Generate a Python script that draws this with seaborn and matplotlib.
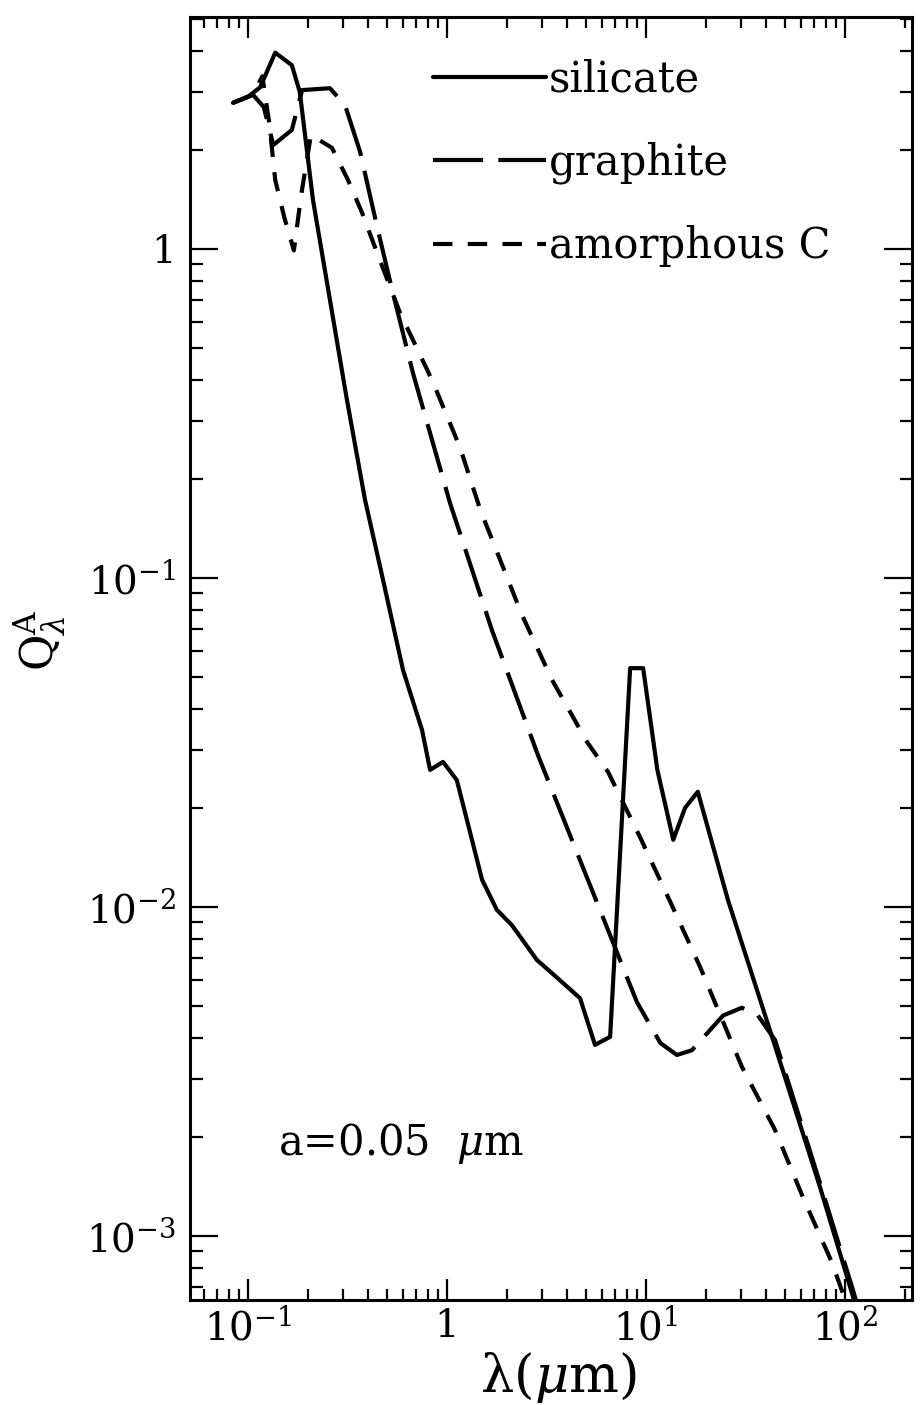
import numpy as np
import pandas as pd
import matplotlib
matplotlib.use("Agg")
import matplotlib.pyplot as plt
import seaborn as sns
from matplotlib.ticker import FixedLocator, FixedFormatter, LogLocator, NullFormatter

# ---------------- data ----------------
lam_sil = [0.084, 0.100, 0.115, 0.137, 0.166, 0.182, 0.212, 0.258, 0.314, 0.387,
           0.477, 0.601, 0.749, 0.822, 0.955, 1.12, 1.50, 1.78, 2.12, 2.83,
           3.57, 4.66, 5.54, 6.6, 8.32, 9.67, 11.4, 13.7, 15.7, 18.2,
           25.8, 43.5, 74.8, 110.0, 125.0]
q_sil = [2.78, 2.90, 3.10, 3.95, 3.62, 3.00, 1.41, 0.70, 0.348, 0.173,
         0.0986, 0.0525, 0.0345, 0.0261, 0.0276, 0.0243, 0.0121, 0.0098, 0.0088, 0.0069,
         0.0061, 0.00528, 0.00381, 0.00403, 0.0532, 0.0532, 0.0261, 0.0160, 0.0200, 0.0224,
         0.0105, 0.00394, 0.00141, 0.00065, 0.00050]

lam_gra = [0.084, 0.106, 0.120, 0.134, 0.166, 0.187, 0.258, 0.307, 0.366, 0.445,
           0.53, 0.674, 1.035, 1.68, 2.86, 5.06, 9.0, 11.8, 14.3, 17.0,
           24.4, 30.3, 36.5, 44.5, 74.8, 110.0, 125.0]
q_gra = [2.78, 2.94, 2.70, 2.07, 2.30, 3.04, 3.08, 2.74, 1.97, 1.17,
         0.75, 0.42, 0.169, 0.0695, 0.029, 0.01225, 0.00514, 0.00386, 0.00355, 0.00367,
         0.00468, 0.00494, 0.00468, 0.00394, 0.00145, 0.00068, 0.00052]

lam_amc = [0.084, 0.106, 0.118, 0.128, 0.137, 0.152, 0.170, 0.185, 0.207, 0.264,
           0.318, 0.374, 0.435, 0.58, 0.84, 1.16, 1.47, 2.38, 3.37, 5.06,
           6.45, 7.57, 9.33, 13.2, 18.7, 30.3, 44.5, 61.5, 86.0, 105.0]
q_amc = [2.78, 2.95, 3.35, 2.40, 1.62, 1.25, 0.99, 1.46, 2.22, 2.03,
         1.62, 1.29, 1.01, 0.64, 0.40, 0.25, 0.161, 0.0772, 0.049, 0.0317,
         0.0257, 0.0211, 0.0163, 0.0104, 0.00657, 0.00327, 0.0021, 0.00131, 0.00083, 0.00059]

series_names = ["silicate", "graphite", "amorphous C"]

xtick_vals = [0.1, 1, 10, 100]
xtick_labels = [r"$10^{-1}$", "1", r"$10^{1}$", r"$10^{2}$"]
ytick_vals = [1e-3, 1e-2, 1e-1, 1]
ytick_labels = [r"$10^{-3}$", r"$10^{-2}$", r"$10^{-1}$", "1"]

# ---------------- style ----------------
sns.set_style("ticks")
plt.rcParams["font.family"] = ["DejaVu Serif"]
plt.rcParams["mathtext.fontset"] = "dejavuserif"
plt.rcParams["lines.scale_dashes"] = False
plt.rcParams["text.color"] = "black"
plt.rcParams["axes.labelcolor"] = "black"
plt.rcParams["xtick.color"] = "black"
plt.rcParams["ytick.color"] = "black"

fig = plt.figure(figsize=(9.22, 14.05), dpi=100)
ax = fig.add_axes([190 / 922, 1 - 1300 / 1405, (912 - 190) / 922, (1300 - 17) / 1405])
ax.set_xscale("log")
ax.set_yscale("log")

styles = ["-", (0, (36, 11)), (0, (14, 11))]
data = [(lam_sil, q_sil), (lam_gra, q_gra), (lam_amc, q_amc)]
for (lam, q), name, ls in zip(data, series_names, styles):
    sns.lineplot(x=lam, y=q, ax=ax, color="black", linewidth=3.0, sort=False,
                 estimator=None, label=name, linestyle=ls)

ax.set_xlim(0.0511, 217)
ax.set_ylim(6.39e-4, 5.07)

ax.xaxis.set_major_locator(FixedLocator(xtick_vals))
ax.xaxis.set_major_formatter(FixedFormatter(xtick_labels))
ax.yaxis.set_major_locator(FixedLocator(ytick_vals))
ax.yaxis.set_major_formatter(FixedFormatter(ytick_labels))
ax.xaxis.set_minor_locator(LogLocator(base=10, subs=np.arange(2, 10), numticks=50))
ax.yaxis.set_minor_locator(LogLocator(base=10, subs=np.arange(2, 10), numticks=50))
ax.xaxis.set_minor_formatter(NullFormatter())
ax.yaxis.set_minor_formatter(NullFormatter())

ax.tick_params(which="both", direction="in", top=True, right=True, width=1.6,
               color="black", labelsize=28, labelcolor="black")
ax.tick_params(axis="x", which="major", length=15, pad=6)
ax.tick_params(axis="x", which="minor", length=8)
ax.tick_params(axis="y", which="major", length=20, pad=10)
ax.tick_params(axis="y", which="minor", length=9)

for sp in ax.spines.values():
    sp.set_linewidth(2.2)
    sp.set_color("black")

ax.set_xlabel("λ($\\mu$m)", fontsize=38)
ax.xaxis.set_label_coords(0.51, -0.039)
ax.set_ylabel(r"$\mathrm{Q}^{\mathrm{A}}_{\lambda}$", fontsize=32)
ax.yaxis.set_label_coords(-0.169, 0.514)

ax.text((278 - 190) / 722, (1300 - 1155) / 1283, r"a=0.05  $\mu$m",
        transform=ax.transAxes, fontsize=30, va="baseline", ha="left", color="black")

handles, labels = ax.get_legend_handles_labels()
leg = ax.legend(handles, labels, loc="upper left",
                bbox_to_anchor=((433 - 190) / 722, (1300 - 59) / 1283),
                frameon=False, fontsize=30, handlelength=2.7, handletextpad=0.08,
                labelspacing=0.98, borderaxespad=0, borderpad=0)
for t in leg.get_texts():
    t.set_color("black")

fig.savefig("out.png", dpi=100)
